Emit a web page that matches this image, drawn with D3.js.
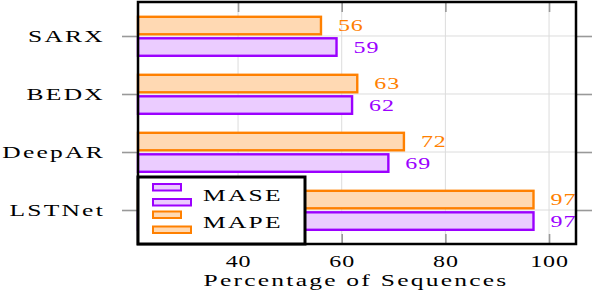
<!DOCTYPE html>
<html>
<head>
<meta charset="utf-8">
<script src="https://cdn.jsdelivr.net/npm/d3@7"></script>
<style>
  body { margin: 0; background: #fff; }
  text { font-family: "Liberation Serif", "DejaVu Serif", serif; }
</style>
</head>
<body>
<div id="chart"></div>
<script>
// data
var categories = ["SARX", "BEDX", "DeepAR", "LSTNet"];
var mape = [56, 63, 72, 97];
var mase = [59, 62, 69, 97];
var xTicks = [40, 60, 80, 100];
var seriesNames = ["MASE", "MAPE"];

var width = 594, height = 292;
var pLeft = 138, pRight = 576, pTop = 2, pBottom = 244;
var orange = "#ff8000", orangeFill = "#ffd9b3";
var purple = "#9b00ff", purpleFill = "#ebccff";
var sx = 1.5, lsWord = "1.5px", lsNum = "0.6px";

var svg = d3.select("#chart").append("svg")
  .attr("width", width).attr("height", height);

var x = d3.scaleLinear().domain([20.7, 105.2]).range([pLeft, pRight]);
var y = d3.scalePoint().domain(categories).range([pTop, pBottom]).padding(0.586);

// stretched serif text, like the original
var label = function(g, px, py, str, anchor, size, col, ls) {
  return g.append("text")
    .attr("transform", "translate(" + px + "," + py + ") scale(" + sx + ",1)")
    .attr("text-anchor", anchor)
    .attr("dy", "0.35em")
    .style("font-size", size + "px")
    .style("letter-spacing", ls || lsWord)
    .attr("fill", col || "#000")
    .text(str);
};

// grid
svg.append("g").selectAll("line").data(xTicks).enter().append("line")
  .attr("x1", function(d) { return x(d); }).attr("x2", function(d) { return x(d); })
  .attr("y1", pTop).attr("y2", pBottom)
  .attr("stroke", "#dcdcdc").attr("stroke-width", 1);
svg.append("g").selectAll("line").data(categories).enter().append("line")
  .attr("x1", pLeft).attr("x2", pRight)
  .attr("y1", function(d) { return y(d); }).attr("y2", function(d) { return y(d); })
  .attr("stroke", "#dcdcdc").attr("stroke-width", 1);

// axes
var fixText = function(ls) {
  return function(g) {
    g.select(".domain").remove();
    g.selectAll(".tick line").attr("stroke", "#999").attr("stroke-width", 1.6);
    g.selectAll(".tick text").each(function() {
      var t = d3.select(this);
      var tx = +t.attr("x") || 0;
      t.attr("x", 0)
        .attr("transform", "translate(" + tx + ",0) scale(" + sx + ",1)")
        .style("letter-spacing", ls)
        .attr("fill", "#000");
    });
  };
};

svg.append("g").attr("transform", "translate(0," + pBottom + ")")
  .call(d3.axisBottom(x).tickValues(xTicks).tickSize(-10).tickPadding(12))
  .call(function(g) { g.selectAll("text").style("font-size", "16px").attr("font-family", null); })
  .call(fixText(lsNum));
svg.append("g").attr("transform", "translate(0," + pTop + ")")
  .call(d3.axisTop(x).tickValues(xTicks).tickSize(-10).tickFormat(""))
  .call(fixText(lsNum));
svg.append("g").attr("transform", "translate(" + pLeft + ",0)")
  .call(d3.axisLeft(y).tickSize(16).tickPadding(17))
  .call(function(g) { g.selectAll("text").style("font-size", "17px").attr("font-family", null); })
  .call(fixText(lsWord));
svg.append("g").attr("transform", "translate(" + pRight + ",0)")
  .call(d3.axisRight(y).tickSize(16).tickFormat(""))
  .call(fixText(lsWord));

// bars
var barH = 17.5;
var x0 = x(x.domain()[0]);
var bars = svg.append("g");
bars.selectAll(".mape").data(categories).enter().append("rect")
  .attr("x", x0)
  .attr("y", function(d) { return y(d) - 1.7 - barH; })
  .attr("width", function(d, i) { return x(mape[i]) - x0; })
  .attr("height", barH)
  .attr("fill", orangeFill).attr("stroke", orange).attr("stroke-width", 2.4);
bars.selectAll(".mase").data(categories).enter().append("rect")
  .attr("x", x0)
  .attr("y", function(d) { return y(d) + 2.3; })
  .attr("width", function(d, i) { return x(mase[i]) - x0; })
  .attr("height", barH)
  .attr("fill", purpleFill).attr("stroke", purple).attr("stroke-width", 2.4);

// value labels
categories.forEach(function(c, i) {
  label(svg, x(mape[i]) + 17, y(c) - 1.7 - barH / 2, mape[i], "start", 16, orange, lsNum);
  label(svg, x(mase[i]) + 17, y(c) + 2.3 + barH / 2, mase[i], "start", 16, purple, lsNum);
});

// frame
svg.append("rect")
  .attr("x", pLeft).attr("y", pTop).attr("width", pRight - pLeft).attr("height", pBottom - pTop)
  .attr("fill", "none").attr("stroke", "#000").attr("stroke-width", 2.5);

// axis title
label(svg, (pLeft + pRight) / 2 - 1, 280, "Percentage of Sequences", "middle", 17);

// legend
var lg = svg.append("g");
lg.append("rect").attr("x", pLeft).attr("y", 177).attr("width", 167).attr("height", 67)
  .attr("fill", "#fff").attr("stroke", "#000").attr("stroke-width", 3);
var legendRows = [
  { name: seriesNames[0], stroke: purple, fill: purpleFill, cy: 195 },
  { name: seriesNames[1], stroke: orange, fill: orangeFill, cy: 222.5 }
];
legendRows.forEach(function(r) {
  lg.append("rect").attr("x", 153).attr("y", r.cy - 11).attr("width", 28).attr("height", 6.5)
    .attr("fill", r.fill).attr("stroke", r.stroke).attr("stroke-width", 2);
  lg.append("rect").attr("x", 153).attr("y", r.cy + 4).attr("width", 38).attr("height", 6.5)
    .attr("fill", r.fill).attr("stroke", r.stroke).attr("stroke-width", 2);
  label(lg, 203, r.cy, r.name, "start", 17);
});
</script>
</body>
</html>
